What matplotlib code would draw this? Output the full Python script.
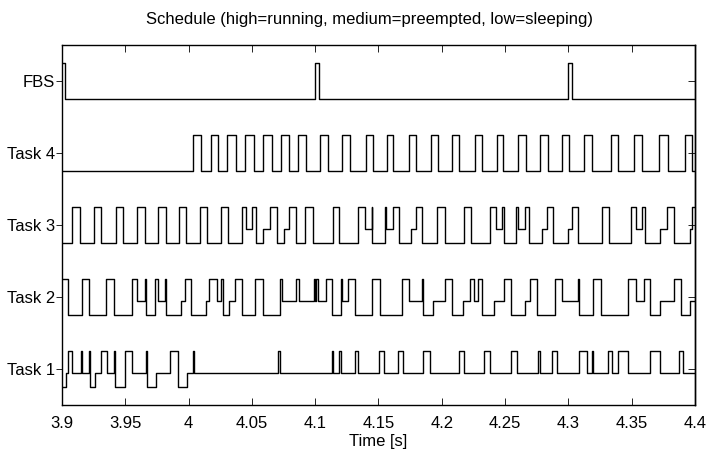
import numpy as np
import matplotlib
matplotlib.use('Agg')
import matplotlib.pyplot as plt

plt.rcParams['font.family'] = ['Liberation Sans', 'DejaVu Sans']

# state codes: 2 = running, 1 = preempted, 0 = sleeping
# each task: switch times [s] and the state entered at that time
fbs_t = [3.8995, 3.9025, 4.1000, 4.1028, 4.3000, 4.3028]
fbs_s = [2, 0, 2, 0, 2, 0]

task4_t = [3.9000,
           4.0035, 4.0094, 4.0173, 4.0233, 4.0307, 4.0373, 4.0449, 4.0513,
           4.0588, 4.0655, 4.0726, 4.0794, 4.0865, 4.0931, 4.1037, 4.1102,
           4.1213, 4.1276, 4.1398, 4.1458, 4.1564, 4.1616, 4.1740, 4.1793,
           4.1911, 4.1967, 4.2082, 4.2137, 4.2261, 4.2314, 4.2433, 4.2485,
           4.2604, 4.2662, 4.2775, 4.2836, 4.2947, 4.3004, 4.3125, 4.3184,
           4.3336, 4.3394, 4.3520, 4.3579, 4.3718, 4.3784, 4.3921, 4.3979]
task4_s = [0] + [2, 0] * 24

task3_t = [3.9000, 3.9079, 3.9140, 3.9253, 3.9311, 3.9424, 3.9482, 3.9596,
           3.9654, 3.9759, 3.9820, 3.9922, 3.9983, 4.0088, 4.0149, 4.0254,
           4.0312, 4.0423, 4.0457, 4.0504, 4.0531, 4.0589, 4.0641, 4.0702,
           4.0755, 4.0792, 4.0852, 4.0923, 4.0979, 4.1137, 4.1187, 4.1339,
           4.1392, 4.1445, 4.1450, 4.1550, 4.1563, 4.1616, 4.1661, 4.1756,
           4.1793, 4.1840, 4.1966, 4.2024, 4.2174, 4.2227, 4.2380, 4.2425,
           4.2477, 4.2488, 4.2585, 4.2604, 4.2657, 4.2691, 4.2788, 4.2828,
           4.2880, 4.2999, 4.3025, 4.3078, 4.3262, 4.3320, 4.3492, 4.3531,
           4.3579, 4.3605, 4.3723, 4.3776, 4.3834, 4.3961, 4.3974]
task3_s = [0, 2, 0, 2, 0, 2, 0, 2,
           0, 2, 0, 2, 0, 2, 0, 2,
           0, 2, 1, 2, 0, 1, 2, 0,
           1, 2, 0, 2, 0, 2, 0, 2,
           1, 2, 0, 2, 1, 2, 0, 1,
           2, 0, 2, 0, 2, 0, 2, 1,
           2, 0, 2, 1, 2, 0, 1, 2,
           0, 1, 2, 0, 2, 0, 2, 1,
           2, 0, 1, 2, 0, 1, 2]

task2_t = [3.9000, 3.9048, 3.9158, 3.9214, 3.9351, 3.9411, 3.9553, 3.9596,
           3.9654, 3.9667, 3.9738, 3.9759, 3.9812, 3.9825, 3.9938, 3.9970,
           4.0022, 4.0141, 4.0159, 4.0225, 4.0259, 4.0273, 4.0317, 4.0365,
           4.0423, 4.0523, 4.0589,
           4.0720, 4.0739, 4.0852, 4.0873, 4.0992, 4.1002, 4.1010, 4.1023,
           4.1089, 4.1129, 4.1203, 4.1213, 4.1260, 4.1313, 4.1445, 4.1511,
           4.1687, 4.1740, 4.1845, 4.1853, 4.1932, 4.2024, 4.2077, 4.2169,
           4.2222, 4.2256,
           4.2283, 4.2314, 4.2414, 4.2493, 4.2546, 4.2657, 4.2696, 4.2749,
           4.2894, 4.2952, 4.3078, 4.3086, 4.3197, 4.3257, 4.3473, 4.3531,
           4.3600, 4.3644, 4.3723, 4.3837, 4.3889, 4.3961]
task2_s = [2, 0, 2, 0, 2, 0, 2, 1,
           2, 0, 2, 1, 2, 0, 1, 2,
           0, 1, 2, 1, 2, 0, 1, 2,
           0, 2, 0,
           2, 1, 2, 1, 2, 1, 2, 1,
           2, 0, 2, 1, 2, 0, 2, 0,
           2, 1, 2, 0, 1, 2, 0, 1,
           2, 1,
           2, 0, 1, 2, 0, 1, 2, 0,
           2, 1, 2, 0, 2, 0, 2, 1,
           2, 0, 1, 2, 0, 1]

task1_t = [3.9000, 3.9035, 3.9048, 3.9079, 3.9148, 3.9158, 3.9211, 3.9219,
           3.9264, 3.9311, 3.9359, 3.9411, 3.9422, 3.9501, 3.9553, 3.9667,
           3.9675, 3.9746, 3.9851, 3.9917, 3.9991, 4.0035, 4.0043,
           4.0707, 4.0720, 4.1129, 4.1137, 4.1187, 4.1203, 4.1313, 4.1339,
           4.1503, 4.1545, 4.1656, 4.1690, 4.1853, 4.1906, 4.2135, 4.2174,
           4.2335, 4.2380, 4.2546, 4.2591, 4.2757, 4.2775, 4.2873, 4.2907,
           4.3083, 4.3144, 4.3189, 4.3197, 4.3315, 4.3342, 4.3389, 4.3473,
           4.3644, 4.3723, 4.3874, 4.3908]
task1_s = [0, 1, 2, 1, 2, 1, 2, 0,
           1, 2, 1, 2, 0, 2, 1, 2,
           0, 1, 2, 0, 1, 2, 1,
           2, 1, 2, 1, 2, 1, 2, 1,
           2, 1, 2, 1, 2, 1, 2, 1,
           2, 1, 2, 1, 2, 1, 2, 1,
           2, 1, 2, 1, 2, 1, 2, 1,
           2, 1, 2, 1]

row_labels = ['Task 1', 'Task 2', 'Task 3', 'Task 4', 'FBS']
rows = [(task1_t, task1_s), (task2_t, task2_s), (task3_t, task3_s),
        (task4_t, task4_s), (fbs_t, fbs_s)]

t_end = 4.4
level = {0: -0.25, 1: -0.05, 2: 0.25}

fig = plt.figure(figsize=(7.07, 4.55), dpi=100)
ax = fig.add_axes([62 / 707, 50 / 455, 633 / 707, 360 / 455])

for i, (t, s) in enumerate(rows):
    tt = np.array(t + [t_end])
    yy = np.array([level[v] for v in s] + [level[s[-1]]]) + i + 1
    ax.step(tt, yy, where='post', color='black', lw=1.0)

ax.set_xlim(3.9, 4.4)
ax.set_ylim(0.5, 5.5)
xt = np.arange(3.9, 4.4001, 0.05)
ax.set_xticks(xt)
ax.set_xticklabels(['%g' % round(v, 2) for v in xt], fontsize=12)
ax.set_yticks(range(1, 6))
ax.set_yticklabels(row_labels, fontsize=12)
ax.tick_params(axis='x', direction='in', top=True, length=5, width=0.6, pad=8)
ax.tick_params(axis='y', direction='out', left=True, right=False, length=4, width=0.6, pad=1)

# right-hand ticks point inwards
ax_r = ax.secondary_yaxis('right')
ax_r.set_yticks(range(1, 6))
ax_r.set_yticklabels([])
ax_r.tick_params(direction='in', length=5, width=0.6)
ax_r.spines['right'].set_linewidth(1.0)

for sp in ax.spines.values():
    sp.set_linewidth(1.0)
ax.set_xlabel('Time [s]', fontsize=12, labelpad=2)
ax.set_title('Schedule (high=running, medium=preempted, low=sleeping)',
             fontsize=12, pad=15, x=0.485)

fig.savefig('out.png', dpi=100)
